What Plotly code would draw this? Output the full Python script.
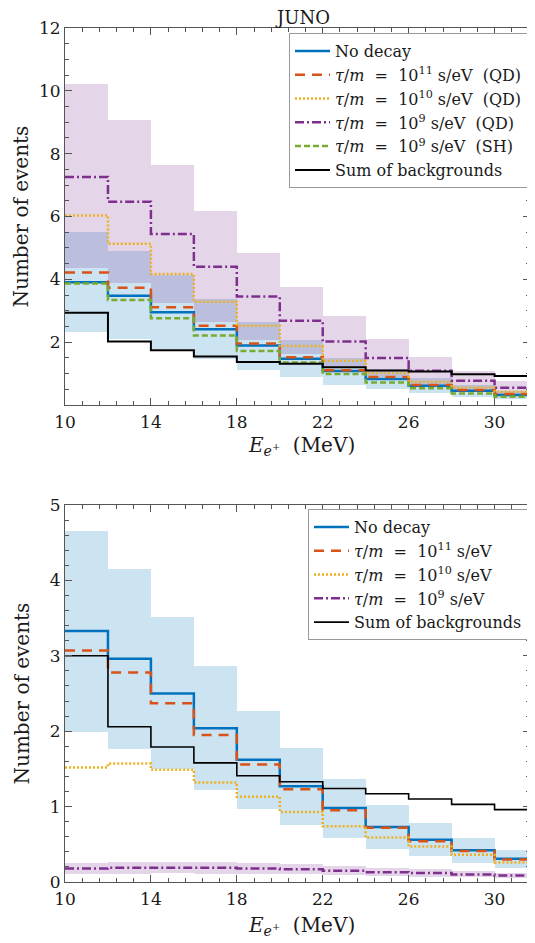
import plotly.graph_objects as go

# ---------------- data ----------------
bin_edges = [10, 12, 14, 16, 18, 20, 22, 24, 26, 28, 30, 32]

# Top panel (JUNO, QD / SH)
top_nodecay = [3.91, 3.48, 2.95, 2.41, 1.89, 1.47, 1.08, 0.83, 0.61, 0.45, 0.32]
top_tau11 = [4.22, 3.73, 3.11, 2.52, 1.96, 1.52, 1.11, 0.89, 0.64, 0.48, 0.35]
top_tau10 = [6.03, 5.13, 4.17, 3.29, 2.52, 1.88, 1.41, 1.02, 0.74, 0.56, 0.42]
top_tau9_qd = [7.26, 6.47, 5.44, 4.40, 3.45, 2.68, 2.02, 1.50, 1.09, 0.77, 0.55]
top_tau9_sh = [3.87, 3.34, 2.76, 2.21, 1.72, 1.35, 0.99, 0.72, 0.53, 0.37, 0.26]
top_bkg = [2.94, 2.02, 1.74, 1.54, 1.37, 1.31, 1.20, 1.10, 1.07, 0.98, 0.92]
top_nodecay_lo = [2.33, 2.09, 1.77, 1.45, 1.13, 0.88, 0.65, 0.50, 0.37, 0.27, 0.19]
top_nodecay_hi = [5.50, 4.90, 4.13, 3.37, 2.65, 2.06, 1.51, 1.16, 0.85, 0.63, 0.45]
top_tau9_lo = [4.36, 3.88, 3.26, 2.64, 2.07, 1.61, 1.21, 0.90, 0.65, 0.46, 0.33]
top_tau9_hi = [10.22, 9.07, 7.63, 6.17, 4.85, 3.76, 2.82, 2.11, 1.54, 1.08, 0.77]

# Bottom panel
bot_nodecay = [3.33, 2.96, 2.50, 2.04, 1.62, 1.27, 0.98, 0.73, 0.56, 0.42, 0.31]
bot_tau11 = [3.07, 2.78, 2.37, 1.95, 1.56, 1.23, 0.95, 0.72, 0.54, 0.41, 0.30]
bot_tau10 = [1.52, 1.57, 1.49, 1.32, 1.13, 0.93, 0.74, 0.59, 0.47, 0.36, 0.26]
bot_tau9 = [0.18, 0.19, 0.19, 0.19, 0.18, 0.17, 0.15, 0.13, 0.12, 0.10, 0.085]
bot_bkg = [3.00, 2.06, 1.79, 1.58, 1.41, 1.33, 1.24, 1.17, 1.10, 1.03, 0.96]
bot_nodecay_lo = [1.99, 1.77, 1.50, 1.22, 0.97, 0.76, 0.59, 0.44, 0.34, 0.25, 0.19]
bot_nodecay_hi = [4.66, 4.15, 3.51, 2.86, 2.27, 1.78, 1.37, 1.02, 0.78, 0.59, 0.43]
bot_tau9_lo = [0.11, 0.11, 0.12, 0.11, 0.11, 0.10, 0.09, 0.08, 0.07, 0.06, 0.05]
bot_tau9_hi = [0.25, 0.27, 0.27, 0.27, 0.25, 0.24, 0.21, 0.18, 0.17, 0.14, 0.12]

x_ticks = [10, 14, 18, 22, 26, 30]
top_y_ticks = [2, 4, 6, 8, 10, 12]
bot_y_ticks = [0, 1, 2, 3, 4, 5]

NB = "\u00a0"
TAU = "<i>τ</i>/<i>m</i>" + NB + " =" + NB + " 10<sup>{}</sup>" + NB + "s/eV"
names_top = [
    "No decay",
    TAU.format(11) + NB + NB + "(QD)",
    TAU.format(10) + NB + NB + "(QD)",
    TAU.format(9) + NB + NB + "(QD)",
    TAU.format(9) + NB + NB + "(SH)",
    "Sum of backgrounds",
]
names_bot = [
    "No decay",
    TAU.format(11),
    TAU.format(10),
    TAU.format(9),
    "Sum of backgrounds",
]

# ---------------- styles ----------------
BLUE = "#0072BD"
RED = "#D95319"
ORANGE = "#EDB120"
PURPLE = "#7E2F8E"
GREEN = "#77AC30"
BLACK = "#000000"
BLUE_FILL = "rgba(0,114,189,0.2)"
PURPLE_FILL = "rgba(126,47,142,0.2)"
FONT = "DejaVu Serif, Liberation Serif, serif"
TXT = "#1a1a1a"

# page has an 8px body margin -> figure is offset by 8px
OFF = 8
W, H = 527, 935
ML, MR, MT, MB = 57, 5, 20, 61
PW = W - ML - MR
PH = H - MT - MB


def px_x(p):  # page pixel -> paper x
    return (p - OFF - ML) / PW


def px_y(p):  # page pixel -> paper y
    return (H - MB - (p - OFF)) / PH


centers = [(a + b) / 2 for a, b in zip(bin_edges[:-1], bin_edges[1:])]


def steps(vals):
    return bin_edges, list(vals) + [vals[-1]]


fig = go.Figure()


def add_band(lo, hi, color, xa, ya):
    fig.add_trace(go.Bar(
        x=centers, y=[h - l for l, h in zip(lo, hi)], base=lo, width=2,
        marker=dict(color=color, line=dict(width=0)),
        showlegend=False, hoverinfo="skip", xaxis=xa, yaxis=ya,
    ))


def add_line(vals, name, color, dash, width, xa, ya, legend):
    xs, ys = steps(vals)
    fig.add_trace(go.Scatter(
        x=xs, y=ys, mode="lines", line=dict(shape="hv", color=color, dash=dash, width=width),
        name=name, xaxis=xa, yaxis=ya, legend=legend,
    ))


# top panel
add_band(top_nodecay_lo, top_nodecay_hi, BLUE_FILL, "x", "y")
add_band(top_tau9_lo, top_tau9_hi, PURPLE_FILL, "x", "y")
add_line(top_nodecay, names_top[0], BLUE, "solid", 2.5, "x", "y", "legend")
add_line(top_tau11, names_top[1], RED, "10px,7px", 2.5, "x", "y", "legend")
add_line(top_tau10, names_top[2], ORANGE, "2px,2px", 2.5, "x", "y", "legend")
add_line(top_tau9_qd, names_top[3], PURPLE, "9px,3px,2px,3px", 2.5, "x", "y", "legend")
add_line(top_tau9_sh, names_top[4], GREEN, "6px,3px", 2.5, "x", "y", "legend")
add_line(top_bkg, names_top[5], BLACK, "solid", 2, "x", "y", "legend")

# bottom panel
add_band(bot_nodecay_lo, bot_nodecay_hi, BLUE_FILL, "x2", "y2")
add_band(bot_tau9_lo, bot_tau9_hi, PURPLE_FILL, "x2", "y2")
add_line(bot_nodecay, names_bot[0], BLUE, "solid", 2.5, "x2", "y2", "legend2")
add_line(bot_tau11, names_bot[1], RED, "10px,7px", 2.5, "x2", "y2", "legend2")
add_line(bot_tau10, names_bot[2], ORANGE, "2px,2px", 2.5, "x2", "y2", "legend2")
add_line(bot_tau9, names_bot[3], PURPLE, "9px,3px,2px,3px", 2.5, "x2", "y2", "legend2")
add_line(bot_bkg, names_bot[4], BLACK, "solid", 1.6, "x2", "y2", "legend2")

bot_frac = 377 / PH
top_start = (PH - 377) / PH

axis_common = dict(
    showline=True, linecolor="#555555", linewidth=1, mirror="ticks",
    ticks="inside", ticklen=7, tickwidth=1, tickcolor="#555555",
    showgrid=False, zeroline=False, automargin=False,
    tickfont=dict(family=FONT, size=17, color=TXT),
)

xcommon = dict(axis_common, range=[10, 31.65], tickvals=x_ticks, ticklabelstandoff=2,
               minor=dict(ticks="inside", ticklen=4, dtick=0.8, tick0=10, tickcolor="#555555", showgrid=False))

leg_common = dict(xanchor="right", yanchor="top",
                  bgcolor="white", bordercolor="#999999", borderwidth=1,
                  font=dict(family=FONT, size=16, color=TXT),
                  itemwidth=35, tracegroupgap=0)

fig.update_layout(
    width=W, height=H,
    margin=dict(l=ML, r=MR, t=MT, b=MB),
    paper_bgcolor="white", plot_bgcolor="white",
    barmode="overlay", bargap=0,
    font=dict(family=FONT, color=TXT),
    xaxis=dict(xcommon, domain=[0, 1], anchor="y"),
    yaxis=dict(axis_common, domain=[top_start, 1], range=[0, 12], tickvals=top_y_ticks, anchor="x",
               minor=dict(ticks="inside", ticklen=4, dtick=0.5, tickcolor="#555555", showgrid=False)),
    xaxis2=dict(xcommon, domain=[0, 1], anchor="y2"),
    yaxis2=dict(axis_common, domain=[0, bot_frac], range=[0, 5], tickvals=bot_y_ticks, anchor="x2",
                minor=dict(ticks="inside", ticklen=4, dtick=0.2, tickcolor="#555555", showgrid=False)),
    legend=dict(leg_common, x=px_x(528), y=px_y(33)),
    legend2=dict(leg_common, x=px_x(528), y=px_y(509)),
    showlegend=True,
)

ann_font = dict(family=FONT, size=20, color=TXT)
xtitle = "<i>E</i><sub><i>e</i><sup>+</sup></sub>  (MeV)"


def ann(text, xp, yp, font, angle=0):
    fig.add_annotation(text=text, x=px_x(xp), y=px_y(yp), xref="paper", yref="paper",
                       xanchor="center", yanchor="middle", showarrow=False,
                       textangle=angle, font=font)


ann("JUNO", 302, 18, dict(family=FONT, size=18, color=TXT))
ann(xtitle, 301, 446, ann_font)
ann(xtitle, 301, 926, ann_font)
ann("Number of events", 21, 216.5, ann_font, -90)
ann("Number of events", 21, 693.5, ann_font, -90)

fig.write_html("out.html")
